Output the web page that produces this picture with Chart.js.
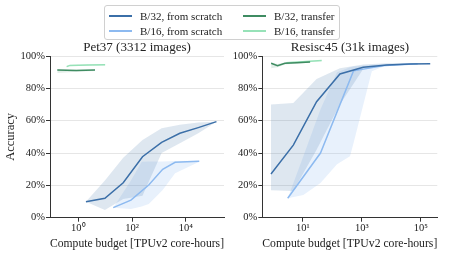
<!DOCTYPE html>
<html>
<head>
<meta charset="utf-8">
<script src="https://cdn.jsdelivr.net/npm/chart.js@4.4.1/dist/chart.umd.min.js"></script>
<style>
  html, body { margin: 0; padding: 0; background: #fff; }
  #fig { position: relative; width: 450px; height: 254px; overflow: hidden;
         font-family: "Liberation Serif", "Times New Roman", serif; color: #222; }
  #fig canvas { position: absolute; left: 0; top: 0; }
  .title { position: absolute; top: 40px; width: 200px; text-align: center;
           font-size: 13px; line-height: 14px; white-space: nowrap; }
  #legend { position: absolute; left: 104px; top: 5px; width: 234px; height: 33px;
            border: 1px solid #d0d0d0; border-radius: 3px; background: #fff; }
  .item { position: absolute; font-size: 11px; line-height: 12px; white-space: nowrap; }
  .item i { position: absolute; top: 5px; width: 23px; height: 2px; }
  .item span { position: absolute; left: 31px; top: 0; }
</style>
</head>
<body>
<div id="fig">
  <canvas id="pet" width="450" height="254"></canvas>
  <canvas id="res" width="450" height="254"></canvas>
  <div class="title" style="left:37px">Pet37 (3312 images)</div>
  <div class="title" style="left:250px">Resisc45 (31k images)</div>
  <div id="legend"></div>
</div>
<script>
// ---------- données ----------
const seriesNames = ["B/32, from scratch", "B/16, from scratch", "B/32, transfer", "B/16, transfer"];
const seriesColors = ["#3b6fa8", "#8dbaf0", "#3f8c62", "#97e2b8"];

// Pet37 : budget (TPUv2 core-hours) et précision (%)
const petB32X = [1.93, 9.8, 47, 245, 1260, 6000, 29000, 138000];
const petB32Acc = [9.9, 12.0, 21.6, 37.7, 46.6, 52.2, 55.7, 59.4];
const petB32Hi = [9.9, 23, 37, 48, 55.3, 57.5, 58.8, 59.4];
const petB32Lo = [9.9, 4.8, 11.5, 13.6, 40, 46, 52.2, 59.4];

const petB16X = [20, 91, 417, 1380, 4000, 31600];
const petB16Acc = [6.2, 10.9, 20.2, 29.9, 34.3, 34.9];
const petB16BandX = [20, 91, 229, 417, 1380, 4000, 31600];
const petB16Hi = [6.2, 23, 34.6, 34.7, 34.8, 35, 35.2];
const petB16Lo = [6.2, 5.4, 7, 8.5, 17.1, 27.5, 34.6];

const petB32tX = [0.166, 0.83, 4.2];
const petB32tAcc = [91.3, 91.0, 91.3];
const petB32tHi = [91.8, 91.5, 91.8];
const petB32tLo = [89.5, 90.3, 90.8];

const petB16tX = [0.37, 0.49, 2.2, 10];
const petB16tAcc = [93.4, 94.2, 94.4, 94.6];
const petB16tHi = [93.9, 94.6, 94.8, 95.0];
const petB16tLo = [92.9, 93.8, 94.0, 94.2];

// Resisc45
const resB32X = [0.84, 4.8, 29.5, 182, 1120, 7100, 43600, 209000];
const resB32Acc = [27.0, 44.9, 71.7, 88.9, 93.0, 94.4, 95.0, 95.2];
const resB32Hi = [70, 71, 85.8, 92.4, 94.8, 95.5, 95.5, 95.3];
const resB32Lo = [17, 16.5, 42, 70, 92, 94, 95, 95.1];

const resB16X = [3.1, 40, 525, 6300, 79000];
const resB16Acc = [12, 40, 90.8, 94.2, 95.2];
const resB16BandX = [3.1, 10.5, 40, 145, 400, 525, 2200, 6300, 79000];
const resB16Hi = [12, 38, 67, 90, 93, 93.5, 94.5, 95, 95.5];
const resB16Lo = [12, 14, 21.5, 33, 38, 46, 90.5, 94, 95];

const resB32tX = [0.85, 1.4, 2.5, 6.3, 17.8];
const resB32tAcc = [95.5, 94.0, 95.5, 95.8, 96.3];
const resB32tHi = [96, 95, 96, 96.3, 96.8];
const resB32tLo = [92.5, 93, 94.8, 95.3, 95.8];

const resB16tX = [2.8, 10, 44];
const resB16tAcc = [95.9, 96.5, 97.2];
const resB16tHi = [96.3, 96.9, 97.6];
const resB16tLo = [95.5, 96.1, 96.8];

// graduations
const petTicks = [1, 100, 10000];
const petTickLabels = ["10⁰", "10²", "10⁴"];
const resTicks = [10, 1000, 100000];
const resTickLabels = ["10¹", "10³", "10⁵"];
const yTicks = [0, 20, 40, 60, 80, 100];

// ---------- légende ----------
const legend = document.getElementById('legend');
const legendPos = [[4, 4], [4, 19], [138, 4], [138, 19]];
seriesNames.forEach((name, i) => {
  const d = document.createElement('div');
  d.className = 'item';
  d.style.left = legendPos[i][0] + 'px';
  d.style.top = legendPos[i][1] + 'px';
  d.innerHTML = `<i style="background:${seriesColors[i]}"></i><span>${name}</span>`;
  legend.appendChild(d);
});

// ---------- helpers ----------
const serif = '"Liberation Serif", "Times New Roman", serif';
Chart.defaults.font.family = serif;
Chart.defaults.color = '#222';

const pts = (xs, ys) => xs.map((x, i) => ({ x, y: ys[i] }));

function alpha(hex, a) {
  const n = parseInt(hex.slice(1), 16);
  return `rgba(${n >> 16}, ${(n >> 8) & 255}, ${n & 255}, ${a})`;
}

function addSeries(list, xs, ys, bx, lo, hi, color, a) {
  const loIdx = list.length;
  list.push({ data: pts(bx, lo), borderWidth: 0, pointRadius: 0, fill: false, order: 2 });
  list.push({ data: pts(bx, hi), borderWidth: 0, pointRadius: 0, fill: loIdx,
              backgroundColor: alpha(color, a), order: 2 });
  list.push({ data: pts(xs, ys), borderColor: color, borderWidth: 1.5, pointRadius: 0,
              fill: false, order: 0 });
}

function makeChart(id, datasets, xMin, xMax, ticks, labels, pad, yWidth, yTitle) {
  new Chart(document.getElementById(id).getContext('2d'), {
    type: 'line',
    data: { datasets },
    options: {
      responsive: false, animation: false, devicePixelRatio: 1,
      layout: { padding: pad },
      plugins: { legend: { display: false }, tooltip: { enabled: false } },
      elements: { line: { tension: 0 } },
      scales: {
        x: {
          type: 'logarithmic', min: xMin, max: xMax,
          afterBuildTicks: s => { s.ticks = ticks.map(v => ({ value: v })); },
          ticks: { callback: (v, i) => labels[i], font: { size: 10.5 }, padding: 0,
                   maxRotation: 0, autoSkip: false, color: '#222' },
          grid: { drawOnChartArea: false, tickLength: 4, tickColor: '#333' },
          border: { color: '#333' },
          title: { display: true, text: 'Compute budget [TPUv2 core-hours]',
                   font: { size: 12.5 }, padding: { top: 0, bottom: 3 }, color: '#222' },
          afterFit: s => { s.height = 36.3; }
        },
        y: {
          min: 0, max: 100,
          afterBuildTicks: s => { s.ticks = yTicks.map(v => ({ value: v })); },
          ticks: { callback: v => v + '%', font: { size: 10.5 }, padding: 1, color: '#222' },
          grid: { color: c => (c.tick && c.tick.value === 0) ? 'rgba(0,0,0,0)' : '#e6e6e6',
                  tickColor: '#333', tickLength: 4 },
          border: { color: '#333' },
          title: { display: !!yTitle, text: yTitle || '', font: { size: 12.5 }, color: '#222',
                   padding: { top: 3, bottom: 0 } },
          afterFit: s => { s.width = yWidth; }
        }
      }
    }
  });
}

// ---------- Pet37 ----------
const petSets = [];
addSeries(petSets, petB32X, petB32Acc, petB32X, petB32Lo, petB32Hi, seriesColors[0], 0.17);
addSeries(petSets, petB16X, petB16Acc, petB16BandX, petB16Lo, petB16Hi, seriesColors[1], 0.2);
addSeries(petSets, petB32tX, petB32tAcc, petB32tX, petB32tLo, petB32tHi, seriesColors[2], 0.15);
addSeries(petSets, petB16tX, petB16tAcc, petB16tX, petB16tLo, petB16tHi, seriesColors[3], 0.25);
makeChart('pet', petSets, 0.089, 263000, petTicks, petTickLabels,
          { left: 0, right: 226, top: 56, bottom: 0 }, 50, 'Accuracy');

// ---------- Resisc45 ----------
const resSets = [];
addSeries(resSets, resB32X, resB32Acc, resB32X, resB32Lo, resB32Hi, seriesColors[0], 0.17);
addSeries(resSets, resB16X, resB16Acc, resB16BandX, resB16Lo, resB16Hi, seriesColors[1], 0.2);
addSeries(resSets, resB32tX, resB32tAcc, resB32tX, resB32tLo, resB32tHi, seriesColors[2], 0.15);
addSeries(resSets, resB16tX, resB16tAcc, resB16tX, resB16tLo, resB16tHi, seriesColors[3], 0.25);
makeChart('res', resSets, 0.427, 363000, resTicks, resTickLabels,
          { left: 222.3, right: 12.7, top: 56, bottom: 0 }, 40, null);
</script>
</body>
</html>
